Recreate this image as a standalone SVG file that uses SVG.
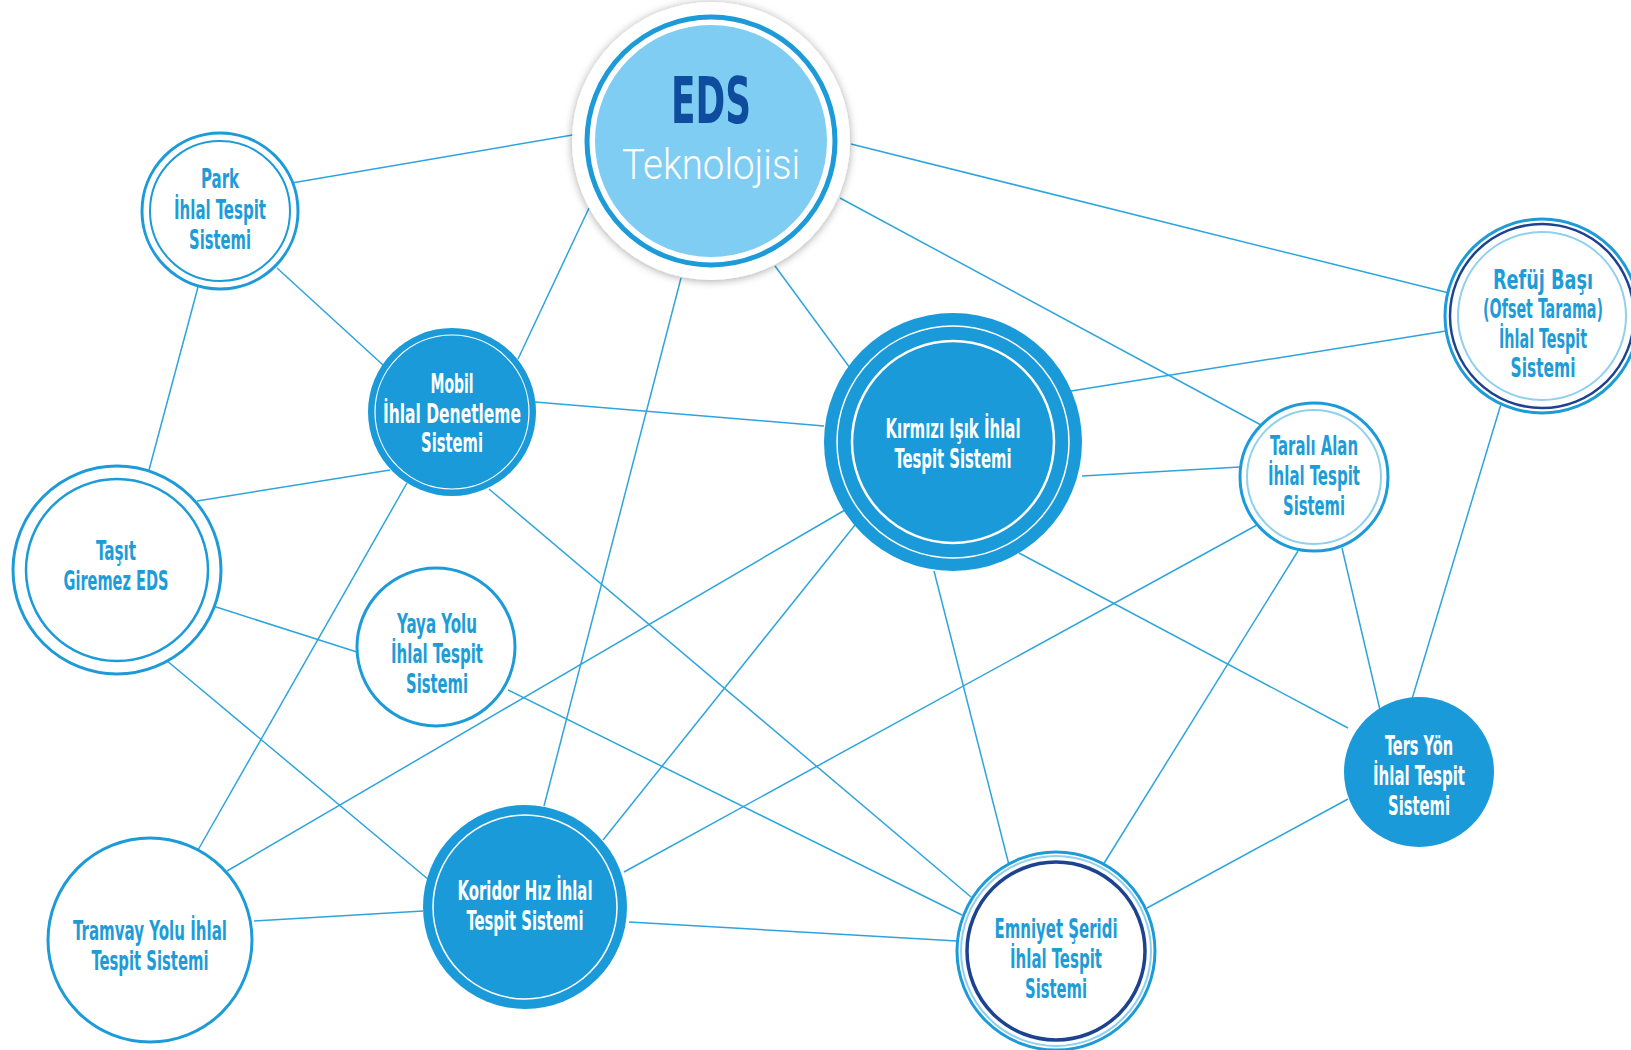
<svg xmlns="http://www.w3.org/2000/svg" width="1631" height="1050" viewBox="0 0 1631 1050">
<defs>
<filter id="sh" x="-20%" y="-20%" width="140%" height="140%">
<feDropShadow dx="0" dy="1" stdDeviation="4" flood-color="#000" flood-opacity="0.35"/>
</filter>
</defs>
<style>
.ln{stroke:#2ea4dc;stroke-width:1.5;fill:none}
.ring{fill:#fff;stroke:#1d9bd9;stroke-width:3}
.ringn{fill:none;stroke:#1d9bd9}
.lt{fill:none;stroke:#8fd0ef;stroke-width:2}
.nv{fill:none;stroke:#1d4290}
.fill{fill:#1b9ad9}
.wr{fill:none;stroke:#fff}
.t{font-family:"Liberation Sans Narrow","DejaVu Sans Condensed","Liberation Sans",sans-serif;font-weight:bold;font-size:27px;text-anchor:middle;fill:#1e9cd8}
.w{fill:#fff}
</style>
<rect width="1631" height="1050" fill="#fff"/>
<g id="connectors">
<line class="ln" x1="590" y1="132" x2="280" y2="185"/>
<line class="ln" x1="589" y1="208" x2="518" y2="359"/>
<line class="ln" x1="681" y1="278" x2="544" y2="806"/>
<line class="ln" x1="775" y1="266" x2="850" y2="368"/>
<line class="ln" x1="840" y1="198" x2="1261" y2="425"/>
<line class="ln" x1="851" y1="144" x2="1449" y2="293"/>
<line class="ln" x1="277" y1="268" x2="383" y2="365"/>
<line class="ln" x1="198" y1="287" x2="149" y2="470"/>
<line class="ln" x1="535" y1="402" x2="824" y2="426"/>
<line class="ln" x1="197" y1="501" x2="390" y2="470"/>
<line class="ln" x1="407" y1="483" x2="198" y2="850"/>
<line class="ln" x1="489" y1="489" x2="971" y2="897"/>
<line class="ln" x1="213" y1="606" x2="360" y2="653"/>
<line class="ln" x1="166" y1="660" x2="429" y2="880"/>
<line class="ln" x1="508" y1="690" x2="962" y2="915"/>
<line class="ln" x1="254" y1="921" x2="423" y2="911"/>
<line class="ln" x1="603" y1="840" x2="855" y2="525"/>
<line class="ln" x1="624" y1="872" x2="1257" y2="525"/>
<line class="ln" x1="629" y1="922" x2="957" y2="941"/>
<line class="ln" x1="227" y1="871" x2="845" y2="510"/>
<line class="ln" x1="1071" y1="391" x2="1446" y2="331"/>
<line class="ln" x1="1082" y1="476" x2="1240" y2="467"/>
<line class="ln" x1="1019" y1="553" x2="1348" y2="728"/>
<line class="ln" x1="934" y1="571" x2="1009" y2="865"/>
<line class="ln" x1="1298" y1="551" x2="1103" y2="865"/>
<line class="ln" x1="1342" y1="548" x2="1380" y2="710"/>
<line class="ln" x1="1501" y1="404" x2="1412" y2="699"/>
<line class="ln" x1="1348" y1="799" x2="1147" y2="908"/>
</g>
<g id="eds">
<circle cx="711" cy="141" r="139" fill="#fff" filter="url(#sh)"/>
<circle cx="711" cy="141" r="124" class="ringn" stroke-width="5"/>
<circle cx="711" cy="141" r="116" fill="#7fcdf3"/>
<text x="711" y="123" font-family="'Liberation Sans Narrow','DejaVu Sans Condensed','Liberation Sans',sans-serif" font-weight="bold" font-size="64" text-anchor="middle" fill="#0e4d9e" textLength="80" lengthAdjust="spacingAndGlyphs">EDS</text>
<text x="711" y="179" font-family="Roboto,'Open Sans',sans-serif" font-weight="300" font-size="43" text-anchor="middle" fill="#fff" textLength="178" lengthAdjust="spacingAndGlyphs">Teknolojisi</text>
</g>
<g id="park">
<circle cx="220" cy="211" r="78" class="ring"/>
<circle cx="220" cy="211" r="70" class="ringn" stroke-width="2"/>
<text class="t" x="220" y="188" textLength="38" lengthAdjust="spacingAndGlyphs">Park</text>
<text class="t" x="220" y="218.5" textLength="92" lengthAdjust="spacingAndGlyphs">İhlal Tespit</text>
<text class="t" x="220" y="249" textLength="62" lengthAdjust="spacingAndGlyphs">Sistemi</text>
</g>
<g id="mobil">
<circle cx="452" cy="412" r="84" class="fill"/>
<circle cx="452" cy="412" r="77" class="wr" stroke-width="1.2"/>
<text class="t w" x="452" y="393" textLength="43" lengthAdjust="spacingAndGlyphs">Mobil</text>
<text class="t w" x="452" y="423" textLength="138" lengthAdjust="spacingAndGlyphs">İhlal Denetleme</text>
<text class="t w" x="452" y="452" textLength="62" lengthAdjust="spacingAndGlyphs">Sistemi</text>
</g>
<g id="kirmizi">
<circle cx="953" cy="442" r="129" class="fill"/>
<circle cx="953" cy="442" r="116" class="wr" stroke-width="1.5"/>
<circle cx="953" cy="442" r="101" class="wr" stroke-width="2.5"/>
<text class="t w" x="953" y="438" textLength="135" lengthAdjust="spacingAndGlyphs">Kırmızı Işık İhlal</text>
<text class="t w" x="953" y="468" textLength="117" lengthAdjust="spacingAndGlyphs">Tespit Sistemi</text>
</g>
<g id="tarali">
<circle cx="1314" cy="477" r="74" class="ring"/>
<circle cx="1314" cy="477" r="67" class="lt"/>
<text class="t" x="1314" y="455" textLength="88" lengthAdjust="spacingAndGlyphs">Taralı Alan</text>
<text class="t" x="1314" y="485" textLength="92" lengthAdjust="spacingAndGlyphs">İhlal Tespit</text>
<text class="t" x="1314" y="515" textLength="62" lengthAdjust="spacingAndGlyphs">Sistemi</text>
</g>
<g id="refuj">
<circle cx="1542" cy="316" r="97" class="ring"/>
<circle cx="1542" cy="316" r="92" class="nv" stroke-width="2.5"/>
<circle cx="1542" cy="316" r="84" class="lt"/>
<text class="t" x="1543" y="289" textLength="100" lengthAdjust="spacingAndGlyphs">Refüj Başı</text>
<text class="t" x="1543" y="318" textLength="120" lengthAdjust="spacingAndGlyphs">(Ofset Tarama)</text>
<text class="t" x="1543" y="348" textLength="88" lengthAdjust="spacingAndGlyphs">İhlal Tespit</text>
<text class="t" x="1543" y="377" textLength="65" lengthAdjust="spacingAndGlyphs">Sistemi</text>
</g>
<g id="tasit">
<circle cx="117" cy="570" r="104" class="ring" stroke-width="5"/>
<circle cx="117" cy="570" r="91" class="ringn" stroke-width="2.5"/>
<text class="t" x="116" y="560" textLength="40" lengthAdjust="spacingAndGlyphs">Taşıt</text>
<text class="t" x="116" y="590" textLength="105" lengthAdjust="spacingAndGlyphs">Giremez EDS</text>
</g>
<g id="yaya">
<circle cx="436" cy="647" r="79" class="ring"/>
<text class="t" x="437" y="633" textLength="80" lengthAdjust="spacingAndGlyphs">Yaya Yolu</text>
<text class="t" x="437" y="663" textLength="92" lengthAdjust="spacingAndGlyphs">İhlal Tespit</text>
<text class="t" x="437" y="693" textLength="62" lengthAdjust="spacingAndGlyphs">Sistemi</text>
</g>
<g id="tersyon">
<circle cx="1419" cy="772" r="75" class="fill"/>
<text class="t w" x="1419" y="755" textLength="68" lengthAdjust="spacingAndGlyphs">Ters Yön</text>
<text class="t w" x="1419" y="785" textLength="92" lengthAdjust="spacingAndGlyphs">İhlal Tespit</text>
<text class="t w" x="1419" y="815" textLength="62" lengthAdjust="spacingAndGlyphs">Sistemi</text>
</g>
<g id="tramvay">
<circle cx="150" cy="940" r="102" class="ring"/>
<text class="t" x="150" y="940" textLength="154" lengthAdjust="spacingAndGlyphs">Tramvay Yolu İhlal</text>
<text class="t" x="150" y="970" textLength="117" lengthAdjust="spacingAndGlyphs">Tespit Sistemi</text>
</g>
<g id="koridor">
<circle cx="525" cy="907" r="102" class="fill"/>
<circle cx="525" cy="907" r="92" class="wr" stroke-width="1.5"/>
<text class="t w" x="525" y="900" textLength="135" lengthAdjust="spacingAndGlyphs">Koridor Hız İhlal</text>
<text class="t w" x="525" y="930" textLength="117" lengthAdjust="spacingAndGlyphs">Tespit Sistemi</text>
</g>
<g id="emniyet">
<circle cx="1056" cy="951" r="99" class="ring"/>
<circle cx="1056" cy="951" r="95" class="lt"/>
<circle cx="1056" cy="951" r="89" class="nv" stroke-width="3.5"/>
<text class="t" x="1056" y="938" textLength="123" lengthAdjust="spacingAndGlyphs">Emniyet Şeridi</text>
<text class="t" x="1056" y="968" textLength="92" lengthAdjust="spacingAndGlyphs">İhlal Tespit</text>
<text class="t" x="1056" y="998" textLength="62" lengthAdjust="spacingAndGlyphs">Sistemi</text>
</g>
</svg>
